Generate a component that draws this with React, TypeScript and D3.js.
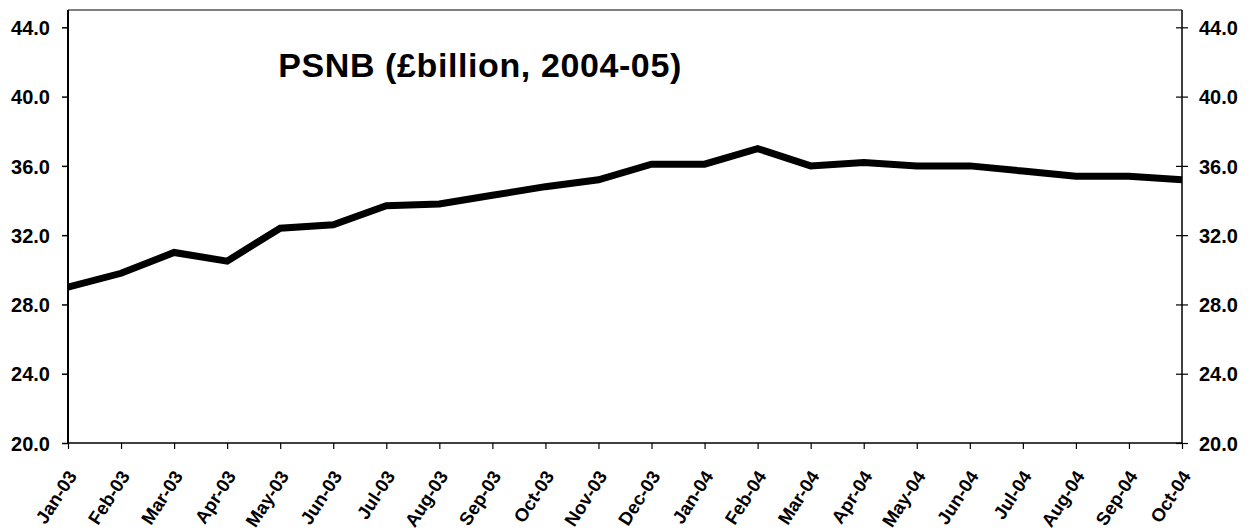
import * as d3 from "d3";
import React from "react";

const months = [
  "Jan-03", "Feb-03", "Mar-03", "Apr-03", "May-03", "Jun-03", "Jul-03", "Aug-03",
  "Sep-03", "Oct-03", "Nov-03", "Dec-03", "Jan-04", "Feb-04", "Mar-04", "Apr-04",
  "May-04", "Jun-04", "Jul-04", "Aug-04", "Sep-04", "Oct-04",
];
const psnb = [
  29.0, 29.8, 31.0, 30.5, 32.4, 32.6, 33.7, 33.8, 34.3, 34.8, 35.2, 36.1,
  36.1, 37.0, 36.0, 36.2, 36.0, 36.0, 35.7, 35.4, 35.4, 35.2,
];
const yTicks = [20, 24, 28, 32, 36, 40, 44];
const title = "PSNB (£billion, 2004-05)";

const W = 1251;
const H = 531;
const margin = { top: 10, right: 69, bottom: 88, left: 68 };

export default function App() {
  const svgRef = React.useRef<SVGSVGElement>(null);

  React.useEffect(() => {
    if (!svgRef.current) return;
    const svg = d3.select(svgRef.current);
    svg.selectAll("*").remove();

    const innerW = W - margin.left - margin.right;
    const innerH = H - margin.top - margin.bottom;

    const x = d3.scalePoint<string>().domain(months).range([0, innerW]);
    const y = d3.scaleLinear().domain([20, 45]).range([innerH, 0]);

    const g = svg.append("g").attr("transform", `translate(${margin.left},${margin.top})`);
    const font = "'Liberation Sans', Arial, sans-serif";

    // top border (grey)
    g.append("line")
      .attr("x1", 0).attr("x2", innerW).attr("y1", 0).attr("y2", 0)
      .attr("stroke", "#808080").attr("stroke-width", 2);

    // left axis
    const yLeft = d3.axisLeft<number>(y).tickValues(yTicks).tickSize(6).tickFormat((v) => d3.format(".1f")(v));
    const gl = g.append("g").call(yLeft as any);
    gl.select(".domain").attr("stroke", "#000").attr("stroke-width", 2).attr("d", `M0,0V${innerH}`);
    gl.selectAll(".tick line").attr("stroke", "#000").attr("stroke-width", 1.5);
    gl.selectAll(".tick text")
      .attr("x", -18)
      .attr("dy", "0.36em")
      .attr("font-family", font).attr("font-size", 20).attr("font-weight", "bold").attr("fill", "#000");

    // right axis (cross ticks)
    const yRight = d3.axisRight<number>(y).tickValues(yTicks).tickSize(6).tickFormat((v) => d3.format(".1f")(v));
    const gr = g.append("g").attr("transform", `translate(${innerW},0)`).call(yRight as any);
    gr.select(".domain").attr("stroke", "#000").attr("stroke-width", 1.5).attr("d", `M0,0V${innerH}`);
    gr.selectAll(".tick line").attr("x1", -6).attr("x2", 6).attr("stroke", "#000").attr("stroke-width", 1.2);
    gr.selectAll(".tick text")
      .attr("x", 17)
      .attr("dy", "0.36em")
      .attr("font-family", font).attr("font-size", 20).attr("font-weight", "bold").attr("fill", "#000");

    // bottom axis
    const xAxis = d3.axisBottom<string>(x).tickSize(6);
    const gx = g.append("g").attr("transform", `translate(0,${innerH})`).call(xAxis as any);
    gx.select(".domain").attr("stroke", "#000").attr("stroke-width", 1.5).attr("d", `M0,0H${innerW}`);
    gx.selectAll(".tick line").attr("stroke", "#000").attr("stroke-width", 1.2);
    gx.selectAll(".tick text")
      .attr("font-family", font).attr("font-size", 18.5).attr("font-weight", "bold").attr("fill", "#000")
      .attr("text-anchor", "end")
      .attr("dy", null)
      .attr("y", 0)
      .attr("transform", "translate(9,33) rotate(-57)");

    // line
    const line = d3
      .line<number>()
      .x((_, i) => x(months[i]) ?? 0)
      .y((d) => y(d));
    g.append("path")
      .datum(psnb)
      .attr("fill", "none")
      .attr("stroke", "#000")
      .attr("stroke-width", 7)
      .attr("stroke-linejoin", "miter")
      .attr("d", line);

    // title
    svg.append("text")
      .attr("x", 480)
      .attr("y", 77)
      .attr("text-anchor", "middle")
      .attr("font-family", font)
      .attr("font-size", 34)
      .attr("font-weight", "bold")
      .attr("letter-spacing", 0.6)
      .attr("fill", "#000")
      .text(title);
  }, []);

  return (
    <svg
      ref={svgRef}
      width={W}
      height={H}
      style={{ position: "absolute", left: 0, top: 0, background: "#fff" }}
    />
  );
}
